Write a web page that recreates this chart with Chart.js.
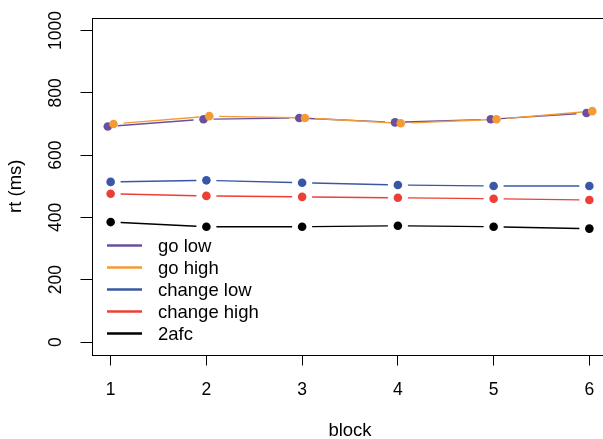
<!DOCTYPE html>
<html><head><meta charset="utf-8">
<script src="https://cdn.jsdelivr.net/npm/chart.js@4"></script>
<style>
html,body{margin:0;padding:0;background:#fff;overflow:hidden;width:603px;height:439px}
#wrap{position:absolute;left:0;top:0;width:625px;height:439px}
</style>
</head><body>
<div id="wrap"><canvas id="c" width="625" height="439"></canvas></div>
<script>
// ---- data ----
const blocks = [1, 2, 3, 4, 5, 6];
const seriesNames = ["go low", "go high", "change low", "change high", "2afc"];
const goLow      = [692, 715, 719, 705, 715, 735];
const goHigh     = [700, 725, 719, 702, 715, 741];
const changeLow  = [514, 519, 511, 504, 501, 501];
const changeHigh = [476, 469, 466, 463, 460, 456];
const twoAfc     = [385, 370, 370, 373, 370, 364];
const yTicks = [0, 200, 400, 600, 800, 1000];

// ---- styles ----
const colors = ["#6a4f9f", "#f59b35", "#3a57a6", "#ec3f35", "#000000"];
const dodge = [-0.03, 0.03, 0, 0, 0];
const FAM = "'Liberation Sans', Arial, Helvetica, sans-serif";
const allSeries = [goLow, goHigh, changeLow, changeHigh, twoAfc];

const datasets = allSeries.map((vals, i) => ({
  label: seriesNames[i],
  data: vals.map((v, j) => ({ x: blocks[j] + dodge[i], y: v })),
  showLine: false,
  pointRadius: 4.3,
  pointHoverRadius: 4.3,
  pointBorderWidth: 0,
  pointBackgroundColor: colors[i],
  borderColor: colors[i],
  order: i === 0 ? 2 : 1
}));

// lines with gaps around points (R type="b")
const gapLines = {
  id: 'gapLines',
  beforeDatasetsDraw(chart) {
    const ctx = chart.ctx, a = chart.chartArea;
    ctx.save();
    ctx.beginPath(); ctx.rect(a.left, a.top, a.right - a.left, a.bottom - a.top); ctx.clip();
    const gap = 10;
    chart.data.datasets.forEach((ds, i) => {
      const pts = chart.getDatasetMeta(i).data;
      ctx.strokeStyle = colors[i];
      ctx.lineWidth = 1.4;
      for (let k = 0; k < pts.length - 1; k++) {
        const p = pts[k], q = pts[k + 1];
        const dx = q.x - p.x, dy = q.y - p.y, L = Math.hypot(dx, dy);
        if (L <= 2 * gap) continue;
        const ux = dx / L, uy = dy / L;
        ctx.beginPath();
        ctx.moveTo(p.x + ux * gap, p.y + uy * gap);
        ctx.lineTo(q.x - ux * gap, q.y - uy * gap);
        ctx.stroke();
      }
    });
    ctx.restore();
  },
  afterDatasetsDraw(chart) {
    const ctx = chart.ctx, a = chart.chartArea;
    ctx.save();
    // box
    ctx.strokeStyle = '#000'; ctx.lineWidth = 1;
    ctx.strokeRect(Math.round(a.left) + 0.5, Math.round(a.top) + 0.5,
                   Math.round(a.right - a.left), Math.round(a.bottom - a.top));
    // legend
    const x0 = 107, x1 = 142, tx = 158, y0 = 245.5, dy = 22;
    ctx.font = "18.5px " + FAM;
    ctx.textBaseline = 'middle';
    ctx.textAlign = 'left';
    chart.data.datasets.forEach((ds, i) => {
      const y = y0 + i * dy;
      ctx.strokeStyle = colors[i]; ctx.lineWidth = 2.5;
      ctx.beginPath(); ctx.moveTo(x0, y); ctx.lineTo(x1, y); ctx.stroke();
      ctx.fillStyle = '#000';
      ctx.fillText(ds.label, tx, y + 1);
    });
    ctx.restore();
  }
};

new Chart(document.getElementById('c'), {
  type: 'line',
  data: { datasets },
  options: {
    responsive: false,
    animation: false,
    devicePixelRatio: 1,
    events: [],
    layout: { padding: { top: 18, right: 16.5, left: 0, bottom: 0 } },
    plugins: { legend: { display: false }, tooltip: { enabled: false } },
    scales: {
      x: {
        type: 'linear', position: 'bottom', min: 0.8, max: 6.2,
        afterBuildTicks: s => { s.ticks = blocks.map(v => ({ value: v })); },
        afterFit: s => { s.height = 84.5; },
        grid: { drawOnChartArea: false, drawTicks: true, tickLength: 11, color: '#000', lineWidth: 1 },
        border: { display: false },
        ticks: { color: '#000', font: { size: 17.5, family: FAM }, padding: 14, maxRotation: 0, autoSkip: false,
                 callback: v => String(v) },
        title: { display: true, text: 'block', color: '#000', font: { size: 18.5, family: FAM, lineHeight: 1 }, padding: { top: 0, bottom: -1 } }
      },
      y: {
        type: 'linear', position: 'left', min: -40, max: 1040,
        afterBuildTicks: s => { s.ticks = yTicks.map(v => ({ value: v })); },
        afterFit: s => { s.width = 91.5; },
        grid: { drawOnChartArea: false, drawTicks: true, tickLength: 11, color: '#000', lineWidth: 1 },
        border: { display: false },
        ticks: { color: '#000', font: { size: 17.5, family: FAM }, padding: 5, minRotation: 90, maxRotation: 90, crossAlign: 'center', autoSkip: false,
                 callback: v => String(v) },
        title: { display: true, text: 'rt (ms)', color: '#000', font: { size: 18.5, family: FAM, lineHeight: 1 }, padding: { top: 7, bottom: 0 } }
      }
    }
  },
  plugins: [gapLines]
});
</script>
</body></html>
